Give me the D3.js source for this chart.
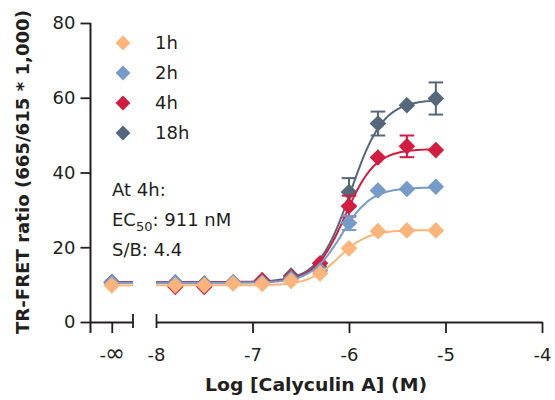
<!DOCTYPE html>
<html>
<head>
<meta charset="utf-8">
<script src="https://cdn.jsdelivr.net/npm/d3@7"></script>
<style>
  body { margin: 0; background: #fff; }
  svg { display: block; font-family: "DejaVu Sans", sans-serif; }
</style>
</head>
<body>
<svg id="chart" width="555" height="400"></svg>
<script>
// concentrations (log M) used in the dilution series
const logConc = [-7.8, -7.5, -7.2, -6.9, -6.6, -6.3, -6.0, -5.7, -5.4, -5.1];
const xTicks = [-8, -7, -6, -5, -4];
const yTicks = [0, 20, 40, 60, 80];

const seriesNames = ["1h", "2h", "4h", "18h"];
const seriesColors = ["#FBB47A", "#769BC8", "#D21D40", "#55677A"];

// TR-FRET ratio values
const val1h = [9.8, 9.8, 10.3, 10.2, 11.0, 13.0, 19.7, 24.3, 24.5, 24.5];
const val2h = [10.5, 10.1, 10.6, 10.6, 11.6, 13.8, 26.5, 35.2, 35.6, 36.2];
const val4h = [9.4, 9.4, 10.5, 11.2, 12.0, 15.7, 31.0, 44.0, 47.0, 46.0];
const val18h = [10.6, 10.3, 10.6, 10.8, 12.4, 14.5, 34.8, 53.1, 58.0, 59.8];
// value at -infinity (no compound)
const valInf = [9.8, 10.6, 10.6, 10.7];

// error bars (SD), 0 = hidden behind symbol
const err1h = [0, 0, 0, 0, 0, 0, 0, 0, 0, 0];
const err2h = [0, 0, 0, 0, 0, 0, 1.9, 0, 0, 0];
const err4h = [0, 0, 0, 0, 0, 0, 2.8, 0, 2.9, 0];
const err18h = [0, 0, 0, 0, 0, 0, 3.7, 3.2, 0, 4.3];

// four parameter logistic fits shown on the figure
const fitBottom = [9.8, 10.5, 10.6, 10.7];
const fitTop = [24.6, 36.0, 46.3, 59.5];
const fitLogEC50 = [-6.11, -6.08, -6.04, -5.98];
const fitHill = [2.85, 2.8, 2.8, 2.6];

const allValues = [val1h, val2h, val4h, val18h];
const allErrors = [err1h, err2h, err4h, err18h];

const svg = d3.select("#chart");
const ink = "#231f20";

const y = d3.scaleLinear().domain([0, 80]).range([322, 23]);
const x = d3.scaleLinear().domain([-8, -4]).range([156, 542]);
// the broken-off segment holding the -inf point
const xBreak = d3.scaleLinear().domain([0, 1]).range([90.5, 133]);

// y axis
const yAxis = svg.append("g")
  .attr("transform", "translate(90.5,0)")
  .call(d3.axisLeft(y).tickValues(yTicks).tickSize(10).tickSizeOuter(0).tickPadding(5));
yAxis.select(".domain").attr("d", "M0,23V333");

// x axis, break segment
const xAxis1 = svg.append("g")
  .attr("transform", "translate(0,322)")
  .call(d3.axisBottom(xBreak).tickValues([0.5]).tickFormat(() => "").tickSize(11).tickSizeOuter(0).tickPadding(15));
xAxis1.append("line").attr("x1", xBreak(1)).attr("x2", xBreak(1)).attr("y1", -8).attr("y2", 6);
const infLabel = xAxis1.select(".tick text").text(null);
infLabel.append("tspan").text("-");
infLabel.append("tspan").style("font-size", "24px").attr("dx", -1).text("\u221E");

// x axis, main segment
const xAxis2 = svg.append("g")
  .attr("transform", "translate(0,322)")
  .call(d3.axisBottom(x).tickValues(xTicks).tickFormat(d => String(d)).tickSize(11).tickSizeOuter(0).tickPadding(15));
xAxis2.selectAll(".tick").filter(d => d === -8).select("line").attr("y1", -8).attr("y2", 6);

svg.selectAll(".domain").attr("stroke", ink).attr("stroke-width", 2);
svg.selectAll("g line").attr("stroke", ink).attr("stroke-width", 1.8);
svg.selectAll(".tick text").attr("fill", ink).style("font-size", "18px").style("font-family", "DejaVu Sans");

// axis titles
svg.append("text")
  .attr("transform", "translate(29,172) rotate(-90)")
  .attr("text-anchor", "middle")
  .attr("textLength", 324).attr("lengthAdjust", "spacingAndGlyphs")
  .style("font-size", "17px").style("font-weight", "bold")
  .attr("fill", ink)
  .text("TR-FRET ratio (665/615 * 1,000)");

svg.append("text")
  .attr("x", 316).attr("y", 391)
  .attr("text-anchor", "middle")
  .attr("textLength", 222).attr("lengthAdjust", "spacingAndGlyphs")
  .style("font-size", "17px").style("font-weight", "bold")
  .attr("fill", ink)
  .text("Log [Calyculin A] (M)");

const diamond = d3.symbol(d3.symbolSquare, 138);
const fitX = d3.range(-8, -5.1 + 1e-9, 0.02);

function logistic(i, lx) {
  return fitBottom[i] + (fitTop[i] - fitBottom[i]) / (1 + Math.pow(10, (fitLogEC50[i] - lx) * fitHill[i]));
}

// draw 18h first so 1h sits on top
[3, 2, 1, 0].forEach(i => {
  const col = seriesColors[i];
  const g = svg.append("g");
  const line = d3.line().x(d => x(d)).y(d => y(logistic(i, d)));
  g.append("path").attr("d", line(fitX))
    .attr("fill", "none").attr("stroke", col).attr("stroke-width", 2);
  g.append("line")
    .attr("x1", xBreak(0.5)).attr("x2", xBreak(1))
    .attr("y1", y(fitBottom[i])).attr("y2", y(fitBottom[i]))
    .attr("stroke", col).attr("stroke-width", 2);

  const pts = logConc.map((c, k) => ({ c, v: allValues[i][k], e: allErrors[i][k] }));
  const eb = g.selectAll(".eb").data(pts.filter(p => p.e > 0)).enter().append("g");
  eb.append("line")
    .attr("x1", d => x(d.c)).attr("x2", d => x(d.c))
    .attr("y1", d => y(d.v - d.e)).attr("y2", d => y(d.v + d.e))
    .attr("stroke", col).attr("stroke-width", 2);
  [1, -1].forEach(s => {
    eb.append("line")
      .attr("x1", d => x(d.c) - 7.3).attr("x2", d => x(d.c) + 7.3)
      .attr("y1", d => y(d.v + s * d.e)).attr("y2", d => y(d.v + s * d.e))
      .attr("stroke", col).attr("stroke-width", 2);
  });

  g.append("path").attr("d", diamond())
    .attr("transform", `translate(${xBreak(0.5)},${y(valInf[i])}) rotate(45)`)
    .attr("fill", col);
  g.selectAll(".pt").data(pts).enter().append("path")
    .attr("d", diamond())
    .attr("transform", d => `translate(${x(d.c)},${y(d.v)}) rotate(45)`)
    .attr("fill", col);
});

// legend
const legend = svg.append("g");
const legY = d3.scalePoint().domain(seriesNames).range([43, 133]);
seriesNames.forEach((n, i) => {
  legend.append("path").attr("d", d3.symbol(d3.symbolSquare, 110)())
    .attr("transform", `translate(123,${legY(n)}) rotate(45)`)
    .attr("fill", seriesColors[i]);
  legend.append("text")
    .attr("x", 155).attr("y", legY(n)).attr("dy", "0.36em")
    .style("font-size", "18px").attr("fill", ink)
    .text(n);
});

// annotation
const note = svg.append("g").attr("fill", ink).style("font-size", "18px");
note.append("text").attr("x", 112).attr("y", 196).text("At 4h:");
const ec = note.append("text").attr("x", 112).attr("y", 226);
ec.append("tspan").text("EC");
ec.append("tspan").attr("dy", 5).style("font-size", "13px").text("50");
ec.append("tspan").attr("dy", -5).text(": 911 nM");
note.append("text").attr("x", 112).attr("y", 256).text("S/B: 4.4");
</script>
</body>
</html>
